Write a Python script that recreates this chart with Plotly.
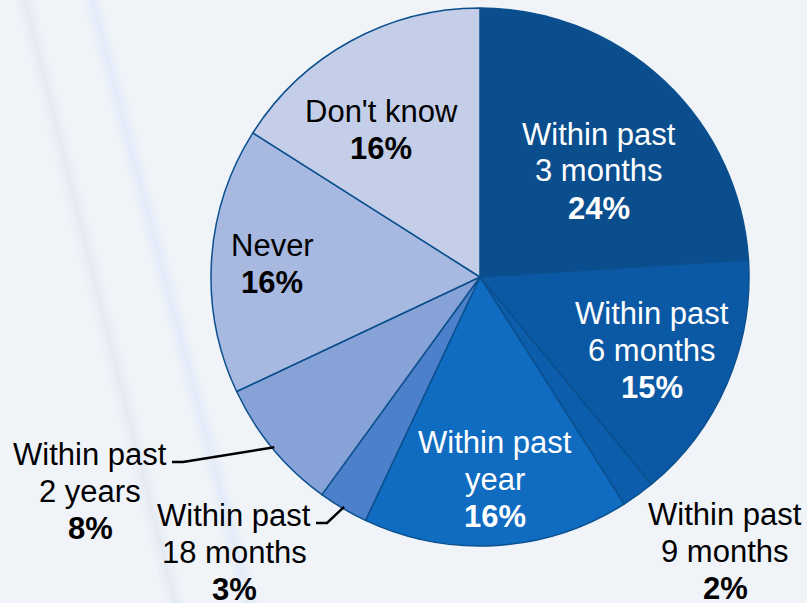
import math
import plotly.graph_objects as go

# Survey answers, clockwise from 12 o'clock
categories = [
    "Within past 3 months", "Within past 6 months", "Within past 9 months",
    "Within past year", "Within past 18 months", "Within past 2 years",
    "Never", "Don't know",
]
values = [24, 15, 2, 16, 3, 8, 16, 16]
label_lines = [
    ["Within past", "3 months"], ["Within past", "6 months"],
    ["Within past", "9 months"], ["Within past", "year"],
    ["Within past", "18 months"], ["Within past", "2 years"],
    ["Never"], ["Don't know"],
]

colors = ["#0A4E8E", "#0B59A5", "#0C5EAD", "#0F6CC1",
          "#4C80CA", "#86A2D7", "#A7B9E0", "#C4CEE8"]
text_colors = ["white", "white", "black", "white", "black", "black", "black", "black"]

W, H = 807, 603
CX, CY, R = 480, 277, 269  # pie centre and radius in pixels

# Label block centres (pixels) and whether a leader line is drawn
label_pos = [(599, 171), (652, 350), (725, 551), (495, 479),
             (234, 552), (90, 491), (272, 264), (381, 130)]
leader = [False, False, False, False, True, True, False, False]
LINE_GAP = 37
FONT = "Liberation Sans, Arial, sans-serif"
FS = 31

fig = go.Figure(go.Pie(
    labels=categories, values=values, sort=False, direction="clockwise",
    rotation=0, textinfo="none", hoverinfo="label+percent",
    marker=dict(colors=colors, line=dict(color="#0B4F8E", width=1.5)),
    domain=dict(x=[(CX - R) / W, (CX + R) / W],
                y=[(H - CY - R) / H, (H - CY + R) / H]),
    showlegend=False,
))

def px(x, y):
    return x / W, 1 - y / H

annotations = []
shapes = []

# soft diagonal streaks in the backdrop: stacked faint bands
for (x0, x1, col) in [(92, 250, "#D6E2F8"), (25, 175, "#DCE3EE")]:
    for wdt in (4, 10, 18):
        off = wdt / 2
        pts = [px(x0 - off, 0), px(x0 + off, 0), px(x1 + off, H), px(x1 - off, H)]
        path = "M " + " L ".join(f"{a} {b}" for a, b in pts) + " Z"
        shapes.append(dict(type="path", path=path, xref="paper", yref="paper",
                           fillcolor=col, opacity=0.16, line=dict(width=0),
                           layer="below"))

total = sum(values)
cum = 0
for i, v in enumerate(values):
    lines = label_lines[i] + [f"<b>{round(100 * v / total)}%</b>"]
    cx, cy = label_pos[i]
    n = len(lines)
    for k, t in enumerate(lines):
        yy = cy + (k - (n - 1) / 2) * LINE_GAP
        ax, ay = px(cx, yy)
        annotations.append(dict(
            x=ax, y=ay, xref="paper", yref="paper", text=t, showarrow=False,
            xanchor="center", yanchor="middle",
            font=dict(family=FONT, size=FS, color=text_colors[i]),
        ))
    mid = (cum + v / 2) / total * 2 * math.pi
    if leader[i]:
        ex = CX + (R - 2) * math.sin(mid)
        ey = CY - (R - 2) * math.cos(mid)
        # elbow next to the first text line
        first_y = cy - (n - 1) / 2 * LINE_GAP + 8
        half_w = 82
        sx = cx + half_w
        kx = sx + 11
        p = [px(sx, first_y), px(kx, first_y), px(ex, ey)]
        path = "M {} {} L {} {} L {} {}".format(*[c for pt in p for c in pt])
        shapes.append(dict(type="path", path=path, xref="paper", yref="paper",
                           line=dict(color="black", width=2.5)))
    cum += v

fig.update_layout(
    width=W, height=H, margin=dict(l=0, r=0, t=0, b=0),
    paper_bgcolor="#F0F4F9", plot_bgcolor="#F0F4F9",
    annotations=annotations, shapes=shapes,
)
fig.write_html("out.html")
